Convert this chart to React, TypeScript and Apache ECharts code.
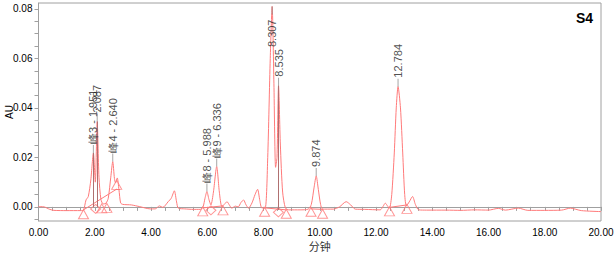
import React, { useEffect, useRef } from "react";
import * as echarts from "echarts";

// ---- data ----
const times: number[] = [
  0.0, 0.2, 0.4, 0.55, 1.0, 1.5, 1.6, 1.69, 1.77, 1.86, 1.951, 2.02, 2.087, 2.15, 2.22, 2.3, 2.4, 2.48, 2.57, 2.64,
  2.7, 2.74, 2.8, 2.86, 2.92, 3.0, 3.3, 3.6, 3.97, 4.15, 4.3, 4.42, 4.61, 4.72, 4.83, 4.91, 4.97, 5.2, 5.5, 5.75,
  5.85, 5.92, 5.988, 6.06, 6.13, 6.22, 6.336, 6.43, 6.52, 6.62, 6.7, 6.8, 6.87, 7.0, 7.1, 7.2, 7.29, 7.38, 7.47, 7.59,
  7.7, 7.79, 7.87, 7.94, 8.06, 8.15, 8.24, 8.307, 8.37, 8.43, 8.48, 8.535, 8.6, 8.68, 8.78, 8.9, 9.3, 9.59, 9.7, 9.8,
  9.874, 9.95, 10.03, 10.1, 10.48, 10.7, 10.94, 11.1, 11.26, 11.6, 12.15, 12.25, 12.33, 12.42, 12.48, 12.56, 12.65,
  12.72, 12.784, 12.87, 12.95, 13.02, 13.08, 13.18, 13.3, 13.4, 13.52, 13.8, 14.5, 15.0, 15.5, 16.0, 16.35, 16.6,
  17.06, 17.4, 18.0, 18.6, 18.91, 19.3, 20.0,
];
const signal: number[] = [
  0.0001, 0.0, -0.001, -0.0014, -0.0015, -0.0015, -0.0013, 0.0028, 0.0042, 0.0109, 0.0218, 0.0100, 0.0345, 0.012, 0.003, 0.0012, 0.0015, 0.0035, 0.012, 0.0183,
  0.0115, 0.0097, 0.0117, 0.007, 0.0016, 0.001, 0.0008, 0.0001, -0.0008, -0.0008, 0.0004, -0.0002, 0.0021, 0.0035, 0.0065, 0.002, -0.0005, -0.0008, -0.001, -0.001,
  0.0, 0.0035, 0.0062, 0.003, 0.0008, 0.006, 0.0163, 0.006, 0.0001, 0.0012, 0.0021, 0.0005, -0.0005, 0.0003, 0.0, 0.0018, 0.0028, 0.0008, -0.0005, 0.0016,
  0.005, 0.0071, 0.0025, -0.0004, -0.0004, 0.02, 0.06, 0.081, 0.05, 0.016, 0.02, 0.049, 0.025, 0.006, -0.0005, -0.0012, -0.0012, -0.0009, 0.001, 0.008,
  0.0125, 0.007, 0.001, -0.0009, -0.0009, 0.0, 0.0021, 0.0008, -0.0009, -0.001, -0.0012, 0.0002, 0.0015, 0.0002, -0.0005, 0.005, 0.0218,
  0.04, 0.0486, 0.04, 0.0218, 0.005, 0.0004, 0.002, 0.0042, 0.001, -0.0012, -0.0013, -0.0013, -0.0014, -0.0012, -0.0013, -0.0006, -0.0013,
  -0.0005, -0.0014, -0.0014, -0.0013, -0.0005, -0.0015, -0.0019,
];

const peakTimes: number[] = [1.951, 2.087, 2.64, 5.988, 6.336, 8.307, 8.535, 9.874, 12.784];
const peakHeights: number[] = [0.0218, 0.0345, 0.0183, 0.0062, 0.0163, 0.081, 0.049, 0.0125, 0.0486];
const peakLabels: string[] = ["峰3 - 1.951", "2.087", "峰4 - 2.640", "峰8 - 5.988", "峰9 - 6.336", "8.307", "8.535", "9.874", "12.784"];

const triangleTimes: number[] = [1.6, 2.25, 2.43, 2.78, 5.84, 6.56, 8.04, 8.81, 9.69, 10.1, 12.48, 13.1];
const triangleValues: number[] = [-0.003, -0.0006, -0.0004, 0.0089, -0.0018, -0.0014, -0.002, -0.0028, -0.002, -0.0028, -0.0018, -0.0008];
const diamondTimes: number[] = [2.03, 6.13, 8.53];
const diamondValues: number[] = [-0.0008, -0.0014, -0.0022];

// integration baselines: [t1, v1, t2, v2]
const baselineSegments: number[][] = [
  [1.6, -0.0012, 2.78, 0.0072],
  [2.74, 0.0072, 2.9, 0.0072],
  [5.84, -0.0004, 6.56, 0.0004],
  [8.04, -0.0004, 8.81, -0.0012],
  [9.69, -0.0008, 10.1, -0.001],
  [12.48, -0.0002, 13.1, 0.0008],
];
// drop lines: [t, top, bottom]
const dropLines: number[][] = [
  [1.951, 0.0218, 0.0],
  [2.087, 0.0345, 0.0],
  [8.535, 0.049, -0.0012],
];

const xLabelValues: number[] = [0, 2, 4, 6, 8, 10, 12, 14, 16, 18, 20];
const yLabelValues: number[] = [0, 0.02, 0.04, 0.06, 0.08];
const xTickValues: number[] = [];
for (let i = 0; i <= 40; i++) xTickValues.push(i * 0.5);
const yTickValues: number[] = [];
for (let i = -1; i <= 16; i++) yTickValues.push(Math.round(i * 0.005 * 1000) / 1000);

const TITLE = "S4";
const X_NAME = "分钟";
const Y_NAME = "AU";

const LINE_RED = "#ff7a7a";
const FONT = "'Liberation Sans', Arial, sans-serif";
// labels of peaks taller than this are pulled down inside the plot, their text ending at LABEL_CLAMP_BASE
const LABEL_CEIL = 0.065;
const LABEL_CLAMP_BASE = 0.0646;

export default function App() {
  const ref = useRef<HTMLDivElement>(null);
  useEffect(() => {
    if (!ref.current) return;
    const chart = echarts.init(ref.current, undefined, { renderer: "svg" });
    const lineData = times.map((t, i) => [t, signal[i]]);
    const normalIdx = peakTimes.map((_, i) => i).filter((i) => peakHeights[i] <= LABEL_CEIL);
    const clampIdx = peakTimes.map((_, i) => i).filter((i) => peakHeights[i] > LABEL_CEIL);
    const labelStyle = {
      show: true,
      position: "top",
      distance: 1,
      rotate: 90,
      align: "left",
      verticalAlign: "middle",
      formatter: (p: any) => p.name,
      fontSize: 11,
      color: "#222",
      fontFamily: FONT,
    };
    const option: any = {
      animation: false,
      textStyle: { fontFamily: FONT },
      grid: {
        left: 38.5, right: 13, top: 3, bottom: 32,
        outerBoundsMode: "none", containLabel: false,
        show: true, borderColor: "#a0a0a0", borderWidth: 1,
      },
      graphic: [
        {
          type: "text",
          right: 21,
          top: 11,
          style: { text: TITLE, fontSize: 14, fontWeight: "bold", fill: "#000", fontFamily: FONT },
        },
      ],
      xAxis: {
        type: "value",
        min: 0,
        max: 20,
        name: X_NAME,
        nameLocation: "middle",
        nameGap: 19,
        nameMoveOverlap: false,
        nameTextStyle: { fontSize: 11, color: "#333", fontFamily: "'Noto Sans CJK SC', sans-serif" },
        axisLine: { show: true, lineStyle: { color: "#a0a0a0" } },
        axisTick: { show: true, length: 4, customValues: xTickValues, lineStyle: { color: "#a0a0a0" } },
        axisLabel: {
          customValues: xLabelValues,
          formatter: (v: number) => v.toFixed(2),
          fontSize: 10,
          color: "#000",
          margin: 6,
        },
        splitLine: { show: false },
      },
      yAxis: {
        type: "value",
        min: -0.0057,
        max: 0.0824,
        name: Y_NAME,
        nameLocation: "middle",
        nameGap: 24,
        nameMoveOverlap: false,
        nameTextStyle: { fontSize: 10, color: "#000" },
        axisLine: { show: true, lineStyle: { color: "#a0a0a0" } },
        axisTick: { show: true, length: 4, customValues: yTickValues, lineStyle: { color: "#a0a0a0" } },
        axisLabel: {
          customValues: yLabelValues,
          formatter: (v: number) => v.toFixed(2),
          fontSize: 10,
          color: "#000",
          margin: 6,
        },
        splitLine: { show: false },
      },
      series: [
        {
          type: "line",
          data: lineData,
          showSymbol: false,
          smooth: 0.25,
          lineStyle: { color: LINE_RED, width: 1 },
          z: 3,
          markLine: {
            silent: true,
            symbol: ["none", "none"],
            label: { show: false },
            data: [
              ...baselineSegments.map((s) => [
                { coord: [s[0], s[1]], lineStyle: { color: LINE_RED, width: 1, type: "solid" } },
                { coord: [s[2], s[3]] },
              ]),
              ...dropLines.map((d) => [
                { coord: [d[0], d[1]], lineStyle: { color: "#b07070", width: 1, type: "solid" } },
                { coord: [d[0], d[2]] },
              ]),
            ],
          },
        },
        {
          type: "scatter",
          data: triangleTimes.map((t, i) => [t, triangleValues[i]]),
          symbol: "triangle",
          symbolSize: [10, 9],
          itemStyle: { color: "rgba(255,255,255,0)", borderColor: LINE_RED, borderWidth: 1 },
          z: 4,
        },
        {
          type: "scatter",
          data: diamondTimes.map((t, i) => [t, diamondValues[i]]),
          symbol: "diamond",
          symbolSize: [10, 9],
          itemStyle: { color: "rgba(255,255,255,0)", borderColor: LINE_RED, borderWidth: 1 },
          z: 4,
        },
        {
          // leaders + labels of normal peaks
          type: "scatter",
          data: normalIdx.map((i) => ({ value: [peakTimes[i], peakHeights[i]], name: peakLabels[i] })),
          symbol: "rect",
          symbolSize: [1, 8],
          symbolOffset: [0, -4],
          itemStyle: { color: "#909090" },
          z: 5,
          label: labelStyle,
        },
        {
          // leaders of clamped peaks (hang below the apex)
          type: "scatter",
          data: clampIdx.map((i) => [peakTimes[i], peakHeights[i]]),
          symbol: "rect",
          symbolSize: [1, 8],
          symbolOffset: [0, 4],
          itemStyle: { color: "#909090" },
          z: 5,
        },
        {
          // labels of clamped peaks
          type: "scatter",
          data: clampIdx.map((i) => ({ value: [peakTimes[i], LABEL_CLAMP_BASE], name: peakLabels[i] })),
          symbol: "rect",
          symbolSize: 0,
          itemStyle: { color: "rgba(0,0,0,0)" },
          z: 6,
          label: { ...labelStyle, distance: 0 },
        },
      ],
    };
    chart.setOption(option);
    return () => chart.dispose();
  }, []);
  return (
    <div
      ref={ref}
      style={{ position: "fixed", left: 0, top: 0, width: 614, height: 253, background: "#fff" }}
    />
  );
}
